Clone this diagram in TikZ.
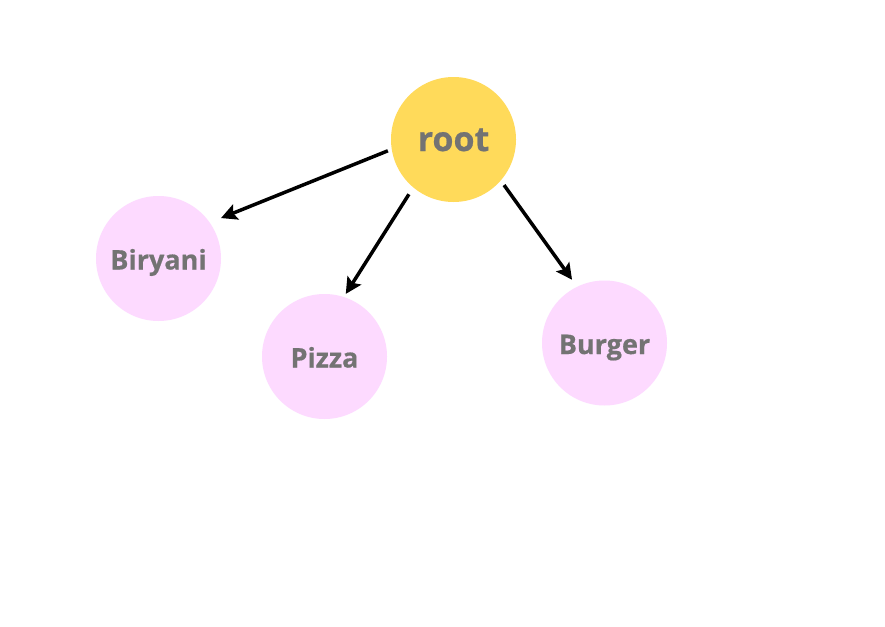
\documentclass[tikz,border=0pt]{standalone}
\usepackage{fontspec}
\setmainfont{Open Sans}[UprightFont={* Bold}, UprightFeatures={FakeBold=0.6}]
\usetikzlibrary{arrows.meta}
\definecolor{rootyellow}{RGB}{255,218,90}
\definecolor{leafpink}{RGB}{253,218,255}
\definecolor{labelgray}{RGB}{115,115,115}
\begin{document}
\begin{tikzpicture}[x=1pt, y=-1pt,
		rootnode/.style={circle, fill=rootyellow, minimum size=125pt, inner sep=0pt, text height=23pt, text depth=0pt, text=labelgray, font=\fontsize{34}{40}\selectfont},
		leafnode/.style={circle, fill=leafpink, minimum size=125pt, inner sep=0pt, text height=22pt, text depth=0pt, text=labelgray, font=\fontsize{27}{30}\selectfont},
		edge/.style={line width=3.5pt, -{Stealth[length=16pt, width=16pt, inset=3pt]}}]
		\useasboundingbox (0, 0) rectangle (885, 626);
		\fill[white] (0, 0) rectangle (885, 626);
		
		\node[rootnode] (root) at (453.5, 139.5) {root};
		\node[leafnode] (biryani) at (158.5, 258.5) {Biryani};
		\node[leafnode] (pizza) at (324.5, 356.5) {Pizza};
		\node[leafnode] (burger) at (604.5, 343) {Burger};
		
		\draw[edge, shorten <=4pt, shorten >=12pt] (root.189) -- (biryani.35);
		\draw[edge, shorten <=8pt, shorten >=3.5pt] (root.230) -- (pizza.72);
		\draw[edge, shorten <=5.5pt, shorten >=8.5pt] (root.319) -- (burger.116);
	\end{tikzpicture}
\end{document}
